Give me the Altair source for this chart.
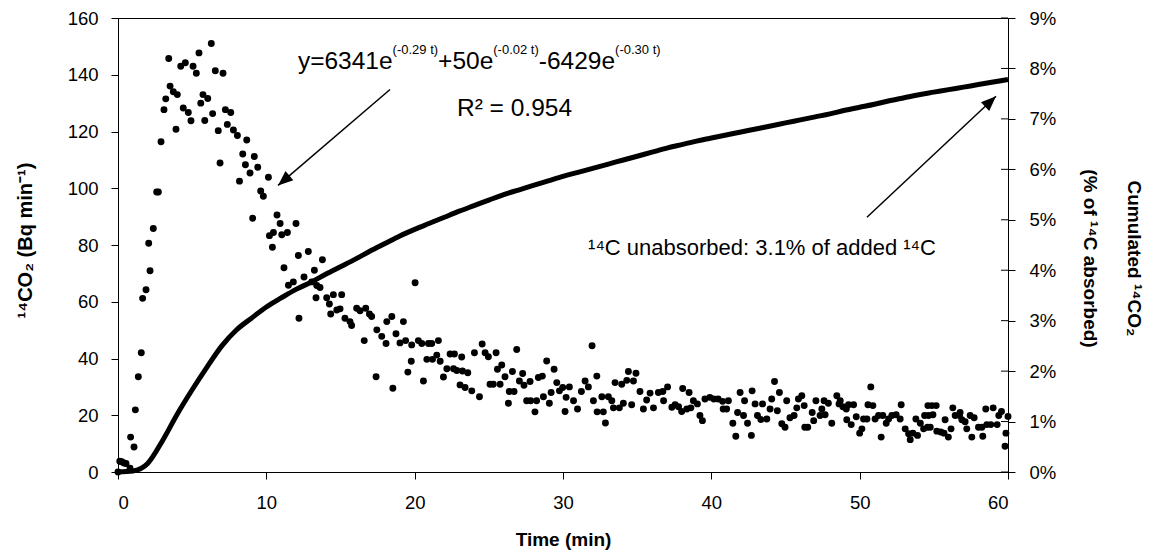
import altair as alt
import pandas as pd

# ---------------- data ----------------
time_min = [0.0, 0.12, 0.25, 0.4, 0.54, 0.81, 0.85, 1.08, 1.17, 1.37, 1.57, 1.66, 1.89, 2.07, 2.16, 2.38,
            2.61, 2.72, 2.90, 3.10, 3.22, 3.42, 3.51, 3.73, 3.91, 4.0, 4.23, 4.40, 4.54, 4.74, 4.92,
            5.06, 5.28, 5.46, 5.58, 5.73, 5.85, 6.05, 6.29, 6.38, 6.56, 6.76, 6.88, 7.08, 7.24, 7.37,
            7.6, 7.78, 8.05, 8.19, 8.41, 8.59, 8.68, 8.90, 9.08, 9.19, 9.42, 9.62, 9.8, 10.14, 10.21,
            10.41, 10.48, 10.72, 10.93, 11.04, 11.19, 11.42, 11.49, 11.82, 12.0, 12.16, 12.2,
            12.54, 12.83, 13.06, 13.24, 13.35, 13.4, 13.62, 13.78, 14.07, 14.25, 14.34, 14.52, 14.75,
            14.97, 15.08, 15.3, 15.64, 15.75, 16.09, 16.32, 16.6, 16.7, 16.95, 17.1, 17.4, 17.45,
            17.78, 18.07, 18.12, 18.46, 18.53, 18.74, 19.01, 19.24, 19.39, 19.54, 19.77, 19.8, 20.03,
            20.25, 20.48, 20.59, 20.82, 20.93, 21.15, 21.2, 21.49, 21.6, 21.72, 21.94, 22.17, 22.39,
            22.62, 22.68, 22.84, 23.06, 23.17, 23.22, 23.4, 23.58, 23.85, 24.03, 24.37,
            24.55, 24.75, 24.97, 25.08, 25.3, 25.49, 25.58, 25.76, 25.87, 26.09, 26.32, 26.38, 26.59,
            26.7, 26.88, 27.06, 27.28, 27.37, 27.55, 27.78, 27.82, 28.11, 28.22, 28.34, 28.61, 28.68,
            28.9, 29.08, 29.2, 29.4, 29.58, 29.76, 29.98, 30.14, 30.21, 30.43, 30.71, 30.98, 31.24,
            31.49, 31.71, 31.96, 32.05, 32.28, 32.3, 32.62, 32.72, 32.86, 33.06, 33.29, 33.4, 33.51,
            33.8, 33.96, 34.07, 34.3, 34.41, 34.63, 34.75, 34.92, 35.19, 35.42, 35.64, 35.87, 36.1,
            36.43, 36.73, 36.78, 37.05, 37.34, 37.56, 37.79, 38.0, 38.07, 38.35, 38.5, 38.62, 38.79,
            39.06, 39.23, 39.4, 39.57, 39.9, 40.17, 40.46, 40.76, 40.8, 41.03, 41.15, 41.45, 41.65,
            41.77, 41.94, 42.17, 42.24, 42.44, 42.7, 42.75, 42.95, 43.11, 43.34, 43.45, 43.74, 43.96,
            44.07, 44.26, 44.45, 44.59, 44.75, 44.97, 45.08, 45.3, 45.58, 45.76, 45.87, 46.1, 46.26,
            46.3, 46.5, 46.8, 46.9, 47.05, 47.33, 47.45, 47.6, 47.67, 47.89, 48.12, 48.46, 48.61,
            48.69, 48.87, 49.1, 49.13, 49.25, 49.43, 49.59, 49.77, 50.0, 50.15, 50.26, 50.49, 50.56,
            50.75, 50.89, 51.04, 51.27, 51.45, 51.56, 51.79, 51.95, 52.17, 52.46, 52.73, 52.8, 53.07,
            53.3, 53.41, 53.59, 53.79, 53.9, 54.09, 54.31, 54.38, 54.58, 54.6, 54.65, 54.76, 54.87,
            54.94, 55.16, 55.2, 55.47, 55.69, 55.76, 55.98, 56.16, 56.28, 56.44, 56.73, 56.77, 56.89,
            57.11, 57.22, 57.45, 57.56, 57.72, 58.01, 58.24, 58.3, 58.5, 58.57, 58.84, 59.0, 59.27,
            59.38, 59.56, 59.8, 59.86, 60.0]
co2_bq = [0, 3.8, 3.6, 3.2, 3.0, 1.3, 12.3, 8.8, 21.9, 33.6, 42, 61.2, 64.2, 80.6, 70.9, 85.8,
          98.7, 98.7, 116.4, 127.7, 131.5, 145.7, 136, 134, 120.8, 133, 143, 128.3, 144.2, 126.7, 123.8,
          143, 140.5, 147.7, 130, 133, 123.9, 131.6, 151, 126.3, 141.4, 120.3, 108.9, 140.5, 127.7, 122.5,
          126.7, 120.5, 118.6, 102.5, 112.1, 108.3, 117, 105.4, 89.4, 111.2, 107.4, 99, 97.2, 103.9, 83.3,
          79.2, 84.4, 90.6, 87.6, 83.6, 72, 84.4, 65.8, 67, 87.6, 76.3, 54.2,
          68.7, 77.7, 67, 71.1, 61.4, 65.7, 65, 74.8, 61.4, 59.2, 55.7, 62.5, 57.1,
          57.5, 62.5, 54.2, 53, 51.6, 57.7, 56.8, 46.3, 57.7, 55.7, 54.8, 33.6, 50.1,
          47.8, 45.3, 53, 54.8, 29.5, 48.7, 45.5, 53, 46.3, 35.2, 39, 44.8, 66.7,
          46.3, 45.3, 32.1, 39.7, 45.3, 45.3, 39.7, 41.2, 46.3, 39, 33.5, 36.4, 41.6,
          36.4, 41.6, 35.8, 30.7, 40.5, 35.6, 29.8, 35, 28.6, 42, 26.5,
          45.1, 42, 40.6, 30.9, 30.9, 42, 36.2, 30.9, 37.7, 33.6, 24.2, 28.4, 35.4,
          28.4, 43.2, 32.1, 34.7, 30.6, 25.1, 31.9, 25.1, 21.2, 25.1, 33.3, 33.8, 26.5,
          39.1, 24.2, 28, 36.2, 31.5, 28.6, 29.8, 21.3, 26.3, 30, 25.1, 22.2, 28.4,
          32.1, 30, 44.5, 25.1, 33.8, 21.2, 26.5, 21.2, 17.3, 26.5, 25.1, 22.6, 31.5,
          22.6, 30.9, 24.2, 32.3, 35.4, 23.7, 32.1, 34.8, 28.4, 22.2, 25.4, 27.8, 22.6,
          28, 28.4, 25.1, 30, 22.8, 23.7, 23, 21.3, 29.4, 22.2, 28, 22.6, 25.1,
          24, 19.9, 18.1, 25.7, 26.3, 25.7, 25.7, 24.9, 22.2, 22.2, 25.1, 17.2, 12.6,
          21, 28, 19.9, 25.1, 17.2, 12.9, 28.6, 24, 19.9, 18.5, 24, 18.7, 22.2,
          25.7, 31.9, 21.6, 28, 17, 15.8, 25.1, 19.1, 19.9, 22.6, 25.7, 26.9, 23.4,
          15.8, 15.8, 21, 18.1, 25.1, 19.9, 22.2, 25.1, 20.2, 24.2, 17.2, 26.9, 24,
          25.1, 23, 22.2, 18.4, 23.7, 16.7, 23.7, 19.5, 13.7, 15.2, 18.7, 18.7, 23.7,
          30, 23.4, 18.7, 19.9, 12.3, 19.9, 17.2, 18.7, 19.9, 20.2, 18.7, 23.7, 15.2,
          13.5, 11.4, 13.7, 18.7, 12.9, 17.2, 15.2, 19.9, 15.8, 23.4, 19.9, 15.8, 23.4,
          20.2, 23.4, 14.4, 14.1, 13.7, 18.4, 12.3, 15.2, 22.6, 19.9, 19.9, 21, 18.4,
          17.7, 15.2, 19.9, 12.3, 19.1, 15.8, 15.8, 12.6, 22.2, 16.7, 16.7, 22.6, 16.7,
          19.9, 21.3, 9.1, 13.7, 19.6]

cum_time = list(range(0, 61))
cum_pct = [0.0, 0.02, 0.17, 0.62, 1.15, 1.63, 2.08, 2.5, 2.82, 3.05,
           3.27, 3.45, 3.62, 3.76, 3.92, 4.07, 4.22, 4.38, 4.53, 4.68,
           4.81, 4.93, 5.05, 5.17, 5.28, 5.39, 5.5, 5.59, 5.68, 5.77,
           5.86, 5.94, 6.02, 6.1, 6.18, 6.26, 6.34, 6.42, 6.49, 6.56,
           6.62, 6.68, 6.74, 6.8, 6.86, 6.92, 6.98, 7.04, 7.1, 7.17,
           7.23, 7.29, 7.36, 7.42, 7.48, 7.53, 7.58, 7.63, 7.68, 7.73, 7.78]

x_ticks = [0, 10, 20, 30, 40, 50, 60]
y_ticks = [0, 20, 40, 60, 80, 100, 120, 140, 160]
pct_ticks = [0, 1, 2, 3, 4, 5, 6, 7, 8, 9]

# ---------------- layout / styling ----------------
W, H = 890, 454
TOP = 10
FONT = "Liberation Sans"
PX_X = W / 60.0      # px per minute

# Arial advance widths (per 1000 em) for composing the equation text
ADV = {'y': 500, '=': 584, '6': 556, '3': 556, '4': 556, '1': 556, 'e': 556, '(': 333,
       '-': 333, '0': 556, '.': 278, '2': 556, '9': 556, ' ': 278, 't': 278, ')': 333,
       '+': 584, '5': 556}

def text_w(s, fs):
    return sum(ADV.get(c, 556) for c in s) / 1000.0 * fs

EQ_MAIN, EQ_SUP = 24.5, 13
eq_parts = [("y=6341e", False), ("(-0.29 t)", True), ("+50e", False), ("(-0.02 t)", True),
            ("-6429e", False), ("(-0.30 t)", True)]
eq_x0, eq_base, eq_sup_shift = 12.13, 142.0, 5.4  # data coordinates of the annotation

rows = []
cx = eq_x0
for s, sup in eq_parts:
    fs = EQ_SUP if sup else EQ_MAIN
    rows.append({"t": cx, "v": eq_base + (eq_sup_shift if sup else 0), "txt": s, "fs": fs})
    cx += text_w(s, fs) / PX_X
rows.append({"t": 22.85, "v": 125.4, "txt": "R\u00b2 = 0.954", "fs": EQ_MAIN})
rows.append({"t": 31.69, "v": 76.5, "txt": "\u00b9\u2074C unabsorbed: 3.1% of added \u00b9\u2074C", "fs": 22})
text_df = pd.DataFrame(rows)

arrow_df = pd.DataFrame({"t0": [18.34, 50.49], "v0": [134.8, 89.8],
                         "t1": [10.79, 59.19], "v1": [101.0, 132.4],
                         "ang": [229.1, 46.6]})

scatter_df = pd.DataFrame({"t": time_min, "v": co2_bq})
curve_df = pd.DataFrame({"t": cum_time, "p": [p / 100 for p in cum_pct]})
ptick_df = pd.DataFrame({"p": [p / 100 for p in pct_ticks]})

xs = alt.Scale(domain=[0, 60], nice=False)
ys = alt.Scale(domain=[0, 160], nice=False)
ps = alt.Scale(domain=[0, 0.09], nice=False)

x_axis = alt.Axis(values=x_ticks, title="Time (min)", grid=False, tickSize=7,
                  labelPadding=14, labelFontSize=18.5, titleFontSize=19, titleFontWeight="bold",
                  titleY=67, titleBaseline="middle")
y_axis = alt.Axis(values=y_ticks, title="\u00b9\u2074CO\u2082 (Bq min\u207b\u00b9)", grid=False,
                  tickSize=7, labelPadding=13, labelFontSize=18.5, titleFontSize=20,
                  titleFontWeight="bold", titleAngle=270, titleX=-93, titleY=222,
                  titleAlign="center", titleBaseline="middle")
p_axis = alt.Axis(values=[p / 100 for p in pct_ticks], format=".0%", orient="right",
                  title=["Cumulated \u00b9\u2074CO\u2082", "(% of \u00b9\u2074C absorbed)"],
                  grid=False, tickSize=7, labelPadding=14, labelFontSize=18.5, titleFontSize=19,
                  titleFontWeight="bold", titleAngle=90, titleX=125, titleY=240,
                  titleAlign="center", titleBaseline="middle", titleLineHeight=44)

X = lambda f: alt.X(f, scale=xs, axis=x_axis)
Y = lambda f: alt.Y(f, scale=ys, axis=y_axis)
P = lambda f: alt.Y(f, scale=ps, axis=p_axis)

scatter = alt.Chart(scatter_df).mark_circle(size=48, color="black", opacity=1).encode(
    x=X("t:Q"), y=Y("v:Q"),
)

rules = alt.Chart(arrow_df).mark_rule(color="black", strokeWidth=1.5).encode(
    x=X("t0:Q"), y=Y("v0:Q"), x2="t1:Q", y2="v1:Q",
)
heads = alt.Chart(arrow_df).mark_point(shape="M0,0L-0.4,1L0.4,1Z", filled=True, size=900,
                                       color="black", opacity=1, strokeWidth=0).encode(
    x=X("t1:Q"), y=Y("v1:Q"), angle=alt.Angle("ang:Q", scale=None),
)
texts = alt.Chart(text_df).mark_text(align="left", baseline="alphabetic", font=FONT,
                                     color="black").encode(
    x=X("t:Q"), y=Y("v:Q"), text="txt:N", size=alt.Size("fs:Q", scale=None),
)

curve = alt.Chart(curve_df).mark_line(color="black", strokeWidth=5, interpolate="monotone").encode(
    x=X("t:Q"), y=P("p:Q"),
)
inner_ticks = alt.Chart(ptick_df).mark_rule(color="black", strokeWidth=1).encode(
    x=alt.value(W - 7), x2=alt.value(W), y=P("p:Q"),
)

left = alt.layer(scatter, rules, heads, texts)
right = alt.layer(curve, inner_ticks)

chart = alt.layer(left, right).resolve_scale(y="independent").properties(
    width=W, height=H,
    padding={"left": 110, "top": TOP, "right": 135, "bottom": 78},
    autosize=alt.AutoSizeParams(type="none"),
    background="white",
).configure_view(stroke="black", strokeWidth=1).configure_axis(
    labelFont=FONT, titleFont=FONT, labelColor="black", titleColor="black",
    domainColor="black", tickColor="black", domainWidth=1, tickWidth=1,
)

chart.save("out.html", embed_options={"renderer": "svg", "actions": False})
